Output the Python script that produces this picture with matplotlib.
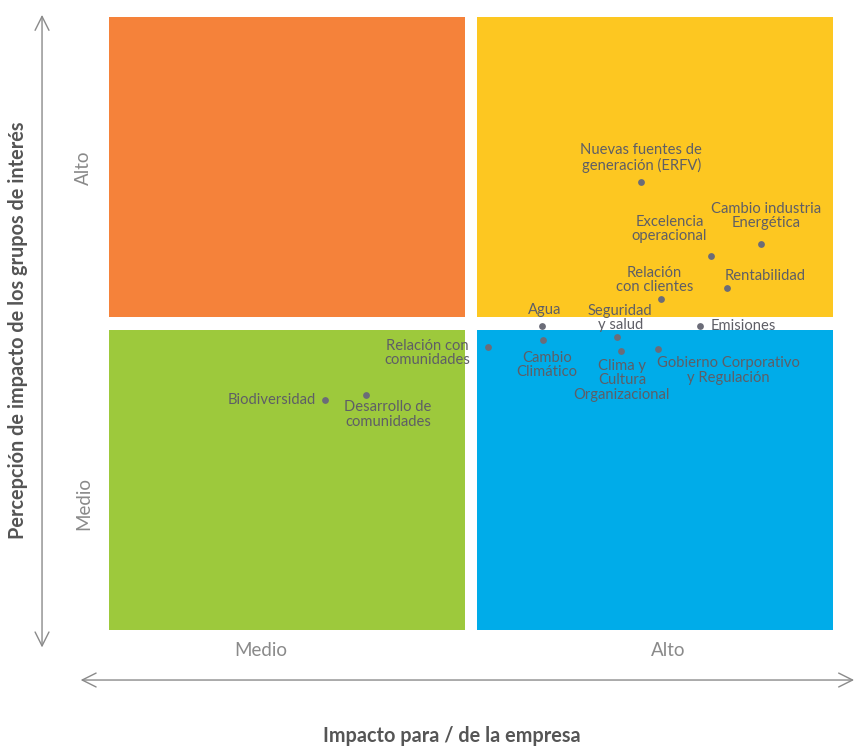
import matplotlib
matplotlib.use("Agg")
import matplotlib.pyplot as plt
from matplotlib.patches import Rectangle

# ---- data ----
topics = [
    "Nuevas fuentes de\ngeneración (ERFV)",
    "Cambio industria\nEnergética",
    "Excelencia\noperacional",
    "Rentabilidad",
    "Relación\ncon clientes",
    "Agua",
    "Seguridad\ny salud",
    "Emisiones",
    "Cambio\nClimático",
    "Relación con\ncomunidades",
    "Clima y\nCultura\nOrganizacional",
    "Gobierno Corporativo\ny Regulación",
    "Biodiversidad",
    "Desarrollo de\ncomunidades",
]
impacto_empresa = [7.35, 9.01, 8.32, 8.54, 7.62, 5.98, 7.02, 8.16, 5.99, 5.24, 7.07, 7.58, 2.99, 3.55]
impacto_grupos = [7.31, 6.30, 6.10, 5.58, 5.40, 4.96, 4.78, 4.96, 4.73, 4.62, 4.55, 4.59, 3.76, 3.84]

x_tick_labels = ["Medio", "Alto"]
y_tick_labels = ["Medio", "Alto"]
x_title = "Impacto para / de la empresa"
y_title = "Percepción de impacto de los grupos de interés"

# ---- layout / style ----
label_offsets = [  # (dx, dy, ha) in pixels
    (0, 24, "center"), (5, 28, "center"), (-42, 27, "center"), (-3, 12, "left"),
    (-6, 19, "center"), (3, 16, "center"), (3, 19, "center"), (11, 0, "left"),
    (4, -25, "center"), (-61, -6, "center"), (1, -29, "center"), (71, -22, "center"),
    (-10, 0, "right"), (22, -20, "center"),
]
quad_colors = {"tl": "#F5823A", "tr": "#FDC721", "bl": "#9DC93C", "br": "#00ACE9"}
gap = 0.083
gapy = 0.106
FONT = "Lato"

W, H = 866, 746
fig = plt.figure(figsize=(W / 100, H / 100), dpi=100)
ax = fig.add_axes([109 / W, (H - 630) / H, 724 / W, 613 / H])
ax.set_xlim(0, 10)
ax.set_ylim(0, 10)
for s in ax.spines.values():
    s.set_visible(False)

ax.add_patch(Rectangle((0, 5 + gapy), 5 - gap, 5 - gapy, color=quad_colors["tl"], lw=0))
ax.add_patch(Rectangle((5 + gap, 5 + gapy), 5 - gap, 5 - gapy, color=quad_colors["tr"], lw=0))
ax.add_patch(Rectangle((0, 0), 5 - gap, 5 - gapy, color=quad_colors["bl"], lw=0))
ax.add_patch(Rectangle((5 + gap, 0), 5 - gap, 5 - gapy, color=quad_colors["br"], lw=0))

ax.scatter(impacto_empresa, impacto_grupos, s=24, color="#6B6C78", zorder=3, lw=0)

for name, x, y, (dx, dy, ha) in zip(topics, impacto_empresa, impacto_grupos, label_offsets):
    ax.annotate(name, (x, y), xytext=(dx, dy), textcoords="offset pixels",
                ha=ha, va="center", multialignment="center",
                fontsize=10.6, color="#5E5E66", family=FONT, zorder=4, linespacing=1.05)

ax.set_xticks([2.10, 7.73])
ax.set_xticklabels(x_tick_labels)
ax.set_yticks([2.07, 7.54])
ax.set_yticklabels(y_tick_labels, rotation=90, va="center")
ax.tick_params(length=0, labelsize=13.5, labelcolor="#8A8A8A")
for t in ax.get_xticklabels() + ax.get_yticklabels():
    t.set_family(FONT)
ax.tick_params(axis="x", pad=9)
ax.tick_params(axis="y", pad=12)

arrow_kw = dict(arrowstyle="<->,head_length=1.0,head_width=0.5", color="#8A8A8A", lw=1.0)
ax.annotate("", xy=(-0.0925, 1.008), xytext=(-0.0925, -0.033), xycoords="axes fraction",
            textcoords="axes fraction", arrowprops=arrow_kw, annotation_clip=False)
ax.annotate("", xy=(1.033, -0.0816), xytext=(-0.043, -0.0816), xycoords="axes fraction",
            textcoords="axes fraction", arrowprops=arrow_kw, annotation_clip=False)

fig.text(452 / W, 1 - 736 / H, x_title, ha="center", va="center", fontsize=14.3,
         fontweight="bold", color="#555555", family=FONT)
fig.text(18 / W, 1 - 330 / H, y_title, ha="center", va="center", fontsize=14.3,
         fontweight="bold", color="#555555", family=FONT, rotation=90)

fig.savefig("out.png", dpi=100)
